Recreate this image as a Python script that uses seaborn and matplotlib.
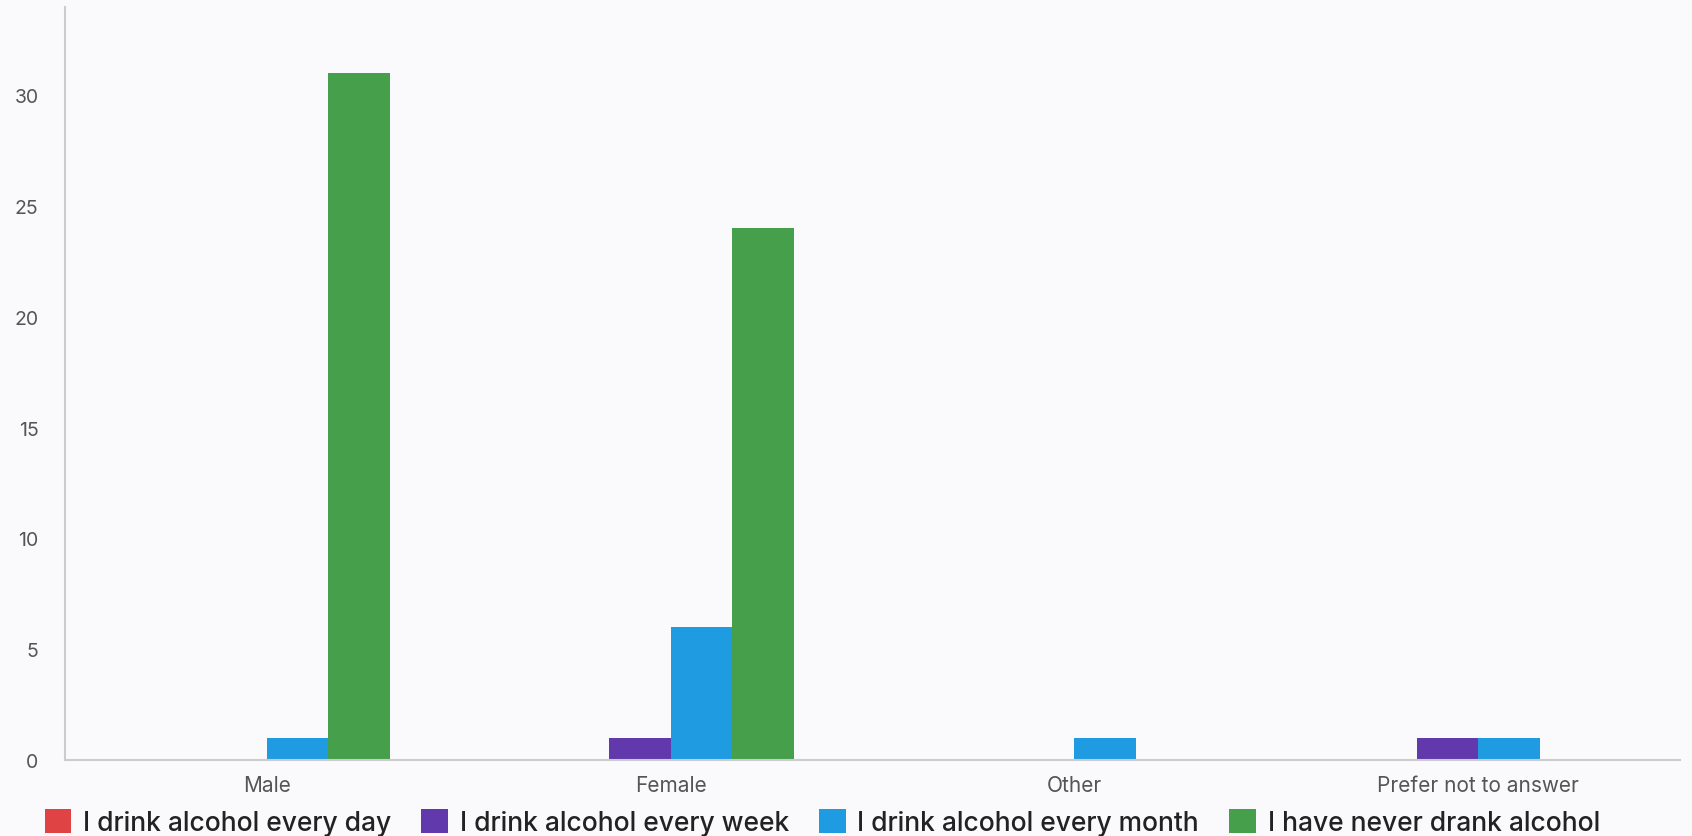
import matplotlib
matplotlib.use("Agg")
import matplotlib.pyplot as plt
from matplotlib.patches import Patch
from matplotlib.ticker import FixedLocator
import seaborn as sns
import pandas as pd

categories = ["Male", "Female", "Other", "Prefer not to answer"]
answers = ["I drink alcohol every day", "I drink alcohol every week",
           "I drink alcohol every month", "I have never drank alcohol"]
every_day = [0, 0, 0, 0]
every_week = [0, 1, 0, 1]
every_month = [1, 6, 1, 1]
never = [31, 24, 0, 0]
colors = ["#E04343", "#6139AD", "#1E9BE1", "#46A04B"]

rows = []
for ans, vals in zip(answers, [every_day, every_week, every_month, never]):
    for cat, v in zip(categories, vals):
        rows.append({"gender": cat, "answer": ans, "count": v})
df = pd.DataFrame(rows)

sns.set_style("white")
plt.rcParams["font.family"] = ["Inter", "DejaVu Sans"]
bg = "#FAFAFC"

fig = plt.figure(figsize=(16.92, 8.37), dpi=100, facecolor=bg)
ax = fig.add_axes([0.0384, 0.0908, 0.9545, 0.90])
ax.set_facecolor(bg)

sns.barplot(data=df, x="gender", y="count", hue="answer", order=categories,
            hue_order=answers, palette=colors, width=0.61, saturation=1,
            linewidth=0, legend=False, ax=ax)

ax.set_xlim(-0.5, 3.5)
ax.set_ylim(0, 34)
ax.set_yticks([0, 5, 10, 15, 20, 25, 30])
ax.set_xlabel("")
ax.set_ylabel("")

for s in ["top", "right"]:
    ax.spines[s].set_visible(False)
for s in ["left", "bottom"]:
    ax.spines[s].set_color("#CCCCCC")
    ax.spines[s].set_linewidth(1.5)

ax.tick_params(axis="y", length=13, width=1.2, color="#CCCCCC",
               labelsize=14, labelcolor="#555555", pad=6)
ax.tick_params(axis="x", which="major", length=0, labelsize=15,
               labelcolor="#555555", pad=11)
ax.xaxis.set_minor_locator(FixedLocator([0.5, 1.5, 2.5]))
ax.tick_params(axis="x", which="minor", length=12, width=1.2, color="#CCCCCC")

handles = [Patch(facecolor=c, edgecolor="none") for c in colors]
fig.legend(handles, answers, loc="center", bbox_to_anchor=(0.486, 0.016),
           ncol=4, frameon=False, handlelength=1.0, handleheight=1.0,
           handletextpad=0.45, columnspacing=1.15,
           prop={"size": 19, "weight": "medium"}, labelcolor="#222222")

fig.savefig("out.png", dpi=100, facecolor=bg)
